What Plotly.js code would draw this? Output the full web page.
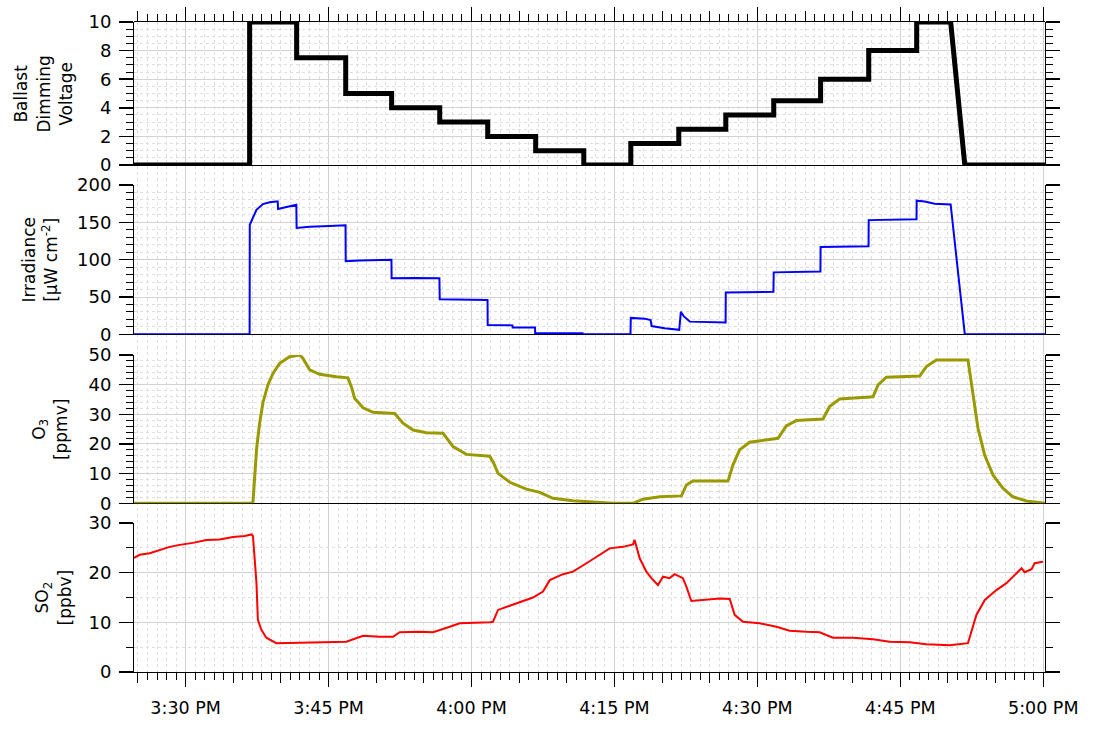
<!DOCTYPE html>
<html>
<head>
<meta charset="utf-8">
<script src="https://cdn.plot.ly/plotly-3.0.1.min.js"></script>
<style>html,body{margin:0;padding:0;background:#fff;}#chart{width:1095px;height:748px;}</style>
</head>
<body>
<div id="chart"></div>
<script>
// Times are minutes after 3:00 PM
const voltTime = [24.58, 36.72, 36.72, 41.65, 41.65, 46.8, 46.8, 51.62, 51.62, 56.66, 56.66, 61.7, 61.7, 66.74, 66.74, 71.78, 71.78, 76.71, 76.71, 81.75, 81.75, 86.68, 86.68, 91.71, 91.71, 96.64, 96.64, 101.68, 101.68, 106.72, 106.72, 110.29, 111.76, 120.18];
const voltValue = [0, 0, 10, 10, 7.5, 7.5, 5, 5, 4, 4, 3, 3, 2, 2, 1, 1, 0, 0, 1.5, 1.5, 2.5, 2.5, 3.5, 3.5, 4.5, 4.5, 6, 6, 8, 8, 10, 10, 0, 0];

const irrTime = [24.58, 36.72, 36.74, 37.07, 37.43, 38.12, 38.82, 39.52, 39.66, 39.7, 40.57, 41.62, 41.65, 43.02, 45.12, 46.78, 46.8, 48.27, 51.6, 51.62, 54.0, 56.64, 56.66, 59.0, 61.68, 61.7, 64.3, 64.32, 66.66, 66.68, 71.65, 71.67, 76.69, 76.71, 78.17, 78.8, 78.9, 80.27, 81.65, 81.8, 81.96, 82.28, 82.91, 86.66, 86.68, 91.69, 91.71, 96.62, 96.64, 101.66, 101.68, 106.7, 106.72, 107.56, 108.6, 110.29, 111.76, 120.18];
const irrValue = [0, 0, 146.7, 155.7, 166.8, 174.5, 177, 178, 178, 167.8, 170.5, 173.5, 142.5, 144, 145, 146, 98, 99, 100, 75, 75.5, 75, 47, 46.5, 46, 12.5, 12, 9, 9, 1.5, 1.5, 0, 0, 22, 21, 19, 11, 8, 6, 6, 30, 24, 17, 16, 56, 57, 83, 84, 117, 118, 153, 154, 179, 178, 175, 174, 0, 0];

const o3Time = [24.58, 36.93, 37.06, 37.25, 37.46, 37.77, 38.12, 38.64, 39.17, 39.87, 40.92, 41.97, 42.28, 43.02, 44.07, 45.82, 47.04, 47.43, 47.74, 48.61, 49.66, 51.94, 52.25, 52.81, 53.86, 55.27, 57.01, 57.4, 58.06, 59.46, 61.91, 62.33, 62.78, 64.01, 65.76, 67.16, 68.55, 70.65, 72.75, 74.85, 76.92, 78.0, 79.75, 82.03, 82.55, 83.24, 86.92, 87.44, 88.14, 89.19, 92.16, 93.04, 94.09, 96.89, 97.59, 98.64, 102.13, 102.66, 103.54, 107.03, 107.74, 108.79, 112.1, 112.63, 113.15, 113.85, 114.73, 115.77, 116.82, 118.23, 119.97, 120.18];
const o3Value = [0, 0, 0.5, 8, 19, 27, 34, 39.9, 43.8, 47.2, 49.4, 50, 49, 45, 43.5, 42.7, 42.3, 39, 35.4, 32.2, 30.7, 30.3, 29, 27, 24.7, 23.8, 23.6, 22, 19.1, 16.5, 15.9, 13.5, 10.1, 7.1, 4.8, 3.7, 1.7, 0.9, 0.5, 0, 0, 1.4, 2.2, 2.5, 6.2, 7.5, 7.5, 12.9, 18, 20.6, 21.9, 26.1, 27.9, 28.4, 32.6, 35.2, 35.9, 39.9, 42.5, 42.9, 46.1, 48.3, 48.3, 36.5, 25.3, 16.3, 9.5, 5.1, 2.2, 0.8, 0, 0];

const so2Time = [24.58, 25.18, 26.23, 27.28, 28.33, 29.38, 30.77, 32.18, 33.57, 34.97, 36.2, 36.9, 37.07, 37.43, 37.59, 37.95, 38.47, 39.52, 42.67, 44.77, 46.87, 48.61, 50.36, 51.76, 52.46, 54.56, 55.96, 57.71, 58.76, 61.91, 62.25, 62.78, 64.71, 66.45, 67.5, 68.21, 69.6, 70.65, 72.06, 73.45, 74.5, 75.9, 76.95, 77.12, 77.65, 78.35, 78.88, 79.57, 80.1, 80.8, 81.32, 82.19, 82.55, 83.07, 84.65, 86.05, 87.1, 87.62, 88.49, 90.24, 92.0, 93.39, 95.14, 96.54, 97.93, 100.03, 102.13, 103.88, 105.98, 107.74, 110.18, 112.1, 112.98, 113.86, 115.08, 116.13, 116.83, 117.71, 118.05, 118.76, 119.1, 119.97];
const so2Value = [23, 23.6, 23.9, 24.6, 25.2, 25.6, 26, 26.6, 26.7, 27.2, 27.4, 27.7, 27.4, 18, 10.5, 8.5, 6.9, 5.8, 5.9, 6.1, 6.1, 7.3, 7.1, 7.1, 8, 8.1, 8, 9.1, 9.8, 10, 10.1, 12.5, 13.8, 15, 16.2, 18.5, 19.7, 20.2, 21.9, 23.6, 24.9, 25.2, 25.7, 26.6, 22.9, 20.2, 18.9, 17.5, 19.2, 18.9, 19.7, 18.9, 17.2, 14.3, 14.5, 14.8, 14.7, 11.5, 10.1, 9.8, 9.1, 8.3, 8.1, 8, 6.9, 6.9, 6.6, 6.1, 6, 5.6, 5.4, 5.8, 11.5, 14.5, 16.5, 17.9, 19.2, 20.9, 20.1, 20.7, 21.9, 22.2];

const xRangeMin = [24.58, 120.18];
const panelTitles = ['Ballast<br>Dimming<br>Voltage', 'Irradiance<br>[\u03bcW cm<sup>-2</sup>]', 'O<sub>3</sub><br>[ppmv]', 'SO<sub>2</sub><br>[ppbv]'];

function pad(n){ return (n < 10 ? '0' : '') + n; }
function clock(m){
  const s = Math.round(m * 60);
  const h = 15 + Math.floor(s / 3600);
  const mm = Math.floor((s % 3600) / 60);
  const ss = s % 60;
  return '2000-01-01 ' + pad(h) + ':' + pad(mm) + ':' + pad(ss);
}
const xr = xRangeMin.map(clock);
const FONT = 'DejaVu Sans, Verdana, sans-serif';

const traces = [
  // empty traces that only register the full-height time axis and its 5-minute tick overlay
  {x: [], y: [], xaxis: 'x', yaxis: 'y', type: 'scatter', mode: 'lines', hoverinfo: 'skip'},
  {x: [], y: [], xaxis: 'x6', yaxis: 'y', type: 'scatter', mode: 'lines', hoverinfo: 'skip'},
  {x: voltTime.map(clock), y: voltValue, xaxis: 'x2', yaxis: 'y2', mode: 'lines', line: {color: '#000000', width: 5}, cliponaxis: false},
  {x: irrTime.map(clock), y: irrValue, xaxis: 'x3', yaxis: 'y3', mode: 'lines', line: {color: '#0000ff', width: 2}, cliponaxis: false},
  {x: o3Time.map(clock), y: o3Value, xaxis: 'x4', yaxis: 'y4', mode: 'lines', line: {color: '#9a9a00', width: 3}, cliponaxis: false},
  {x: so2Time.map(clock), y: so2Value, xaxis: 'x5', yaxis: 'y5', mode: 'lines', line: {color: '#ff0000', width: 2}, cliponaxis: false}
];

const domains = [[0.78, 1.0], [0.5195, 0.7492], [0.2595, 0.4877], [0, 0.2292]];
const yRanges = [[0, 10], [0, 200], [0, 50], [0, 30]];
const yDticks = [2, 50, 10, 10];
const yMinor = [0.5, 10, 2, 5];

const layout = {
  width: 1095, height: 748,
  margin: {l: 134, r: 50, t: 22, b: 76},
  paper_bgcolor: '#ffffff',
  plot_bgcolor: 'rgba(0,0,0,0)',
  showlegend: false,
  font: {family: FONT, size: 17, color: '#000'},
  xaxis: {
    type: 'date', range: xr, anchor: 'y', domain: [0, 1],
    tickmode: 'linear', tick0: '2000-01-01 15:30:00', dtick: 15 * 60000,
    tickformat: '%-I:%M %p', ticks: 'outside', ticklen: 14, tickwidth: 1.5, tickcolor: '#000',
    showline: true, linecolor: '#000', linewidth: 1, mirror: 'ticks',
    showgrid: true, gridcolor: '#d2d2d2', gridwidth: 1,
    zeroline: false, tickfont: {family: FONT, size: 17.5, color: '#000'},
    ticklabelstandoff: 6,
    minor: {tick0: '2000-01-01 15:25:00', dtick: 60000, ticks: 'outside', ticklen: 7, tickwidth: 1, tickcolor: '#000', showgrid: true, gridcolor: '#dedede', griddash: 'dot', gridwidth: 1}
  },
  yaxis: {domain: [0, 1], range: [0, 1], anchor: 'x', showticklabels: false, ticks: '', showline: false, showgrid: false, zeroline: false, fixedrange: true},
  xaxis6: {
    type: 'date', range: xr, overlaying: 'x', anchor: 'y',
    tickmode: 'linear', tick0: '2000-01-01 15:25:00', dtick: 5 * 60000,
    ticks: 'outside', ticklen: 10, tickwidth: 1, tickcolor: '#000',
    showticklabels: false, showgrid: false, showline: false, zeroline: false, mirror: 'ticks'
  },
  annotations: []
};

for (let i = 0; i < 4; i++) {
  const n = i + 2;
  layout['xaxis' + n] = {
    type: 'date', range: xr, anchor: 'y' + n, domain: [0, 1],
    showline: true, linecolor: '#000', linewidth: 1, layer: 'below traces',
    ticks: '', showticklabels: false, showgrid: false, zeroline: false
  };
  layout['yaxis' + n] = {
    domain: domains[i], range: yRanges[i], anchor: 'x' + n,
    tickmode: 'linear', tick0: 0, dtick: yDticks[i],
    ticks: 'outside', ticklen: 14, tickwidth: 1.5, tickcolor: '#000',
    showline: true, linecolor: '#000', linewidth: 1, mirror: 'ticks',
    showgrid: true, gridcolor: '#d2d2d2', gridwidth: 1, zeroline: false,
    tickfont: {family: FONT, size: 18, color: '#000'}, ticklabelstandoff: 4,
    minor: {dtick: yMinor[i], tick0: 0, ticks: 'outside', ticklen: 7, tickwidth: 1, tickcolor: '#000', showgrid: true, gridcolor: '#dedede', griddash: 'dot', gridwidth: 1}
  };
}

const titleRight = [-0.0615, -0.078, -0.067, -0.0637];
for (let i = 0; i < 4; i++) {
  layout.annotations.push({
    text: panelTitles[i], xref: 'paper', yref: 'y' + (i + 2) + ' domain',
    x: titleRight[i], y: 0.5, xanchor: 'right', yanchor: 'middle',
    textangle: -90, showarrow: false, align: 'center',
    font: {family: FONT, size: 17, color: '#000'}
  });
}

Plotly.newPlot('chart', traces, layout, {displayModeBar: false, staticPlot: true});
</script>
</body>
</html>
